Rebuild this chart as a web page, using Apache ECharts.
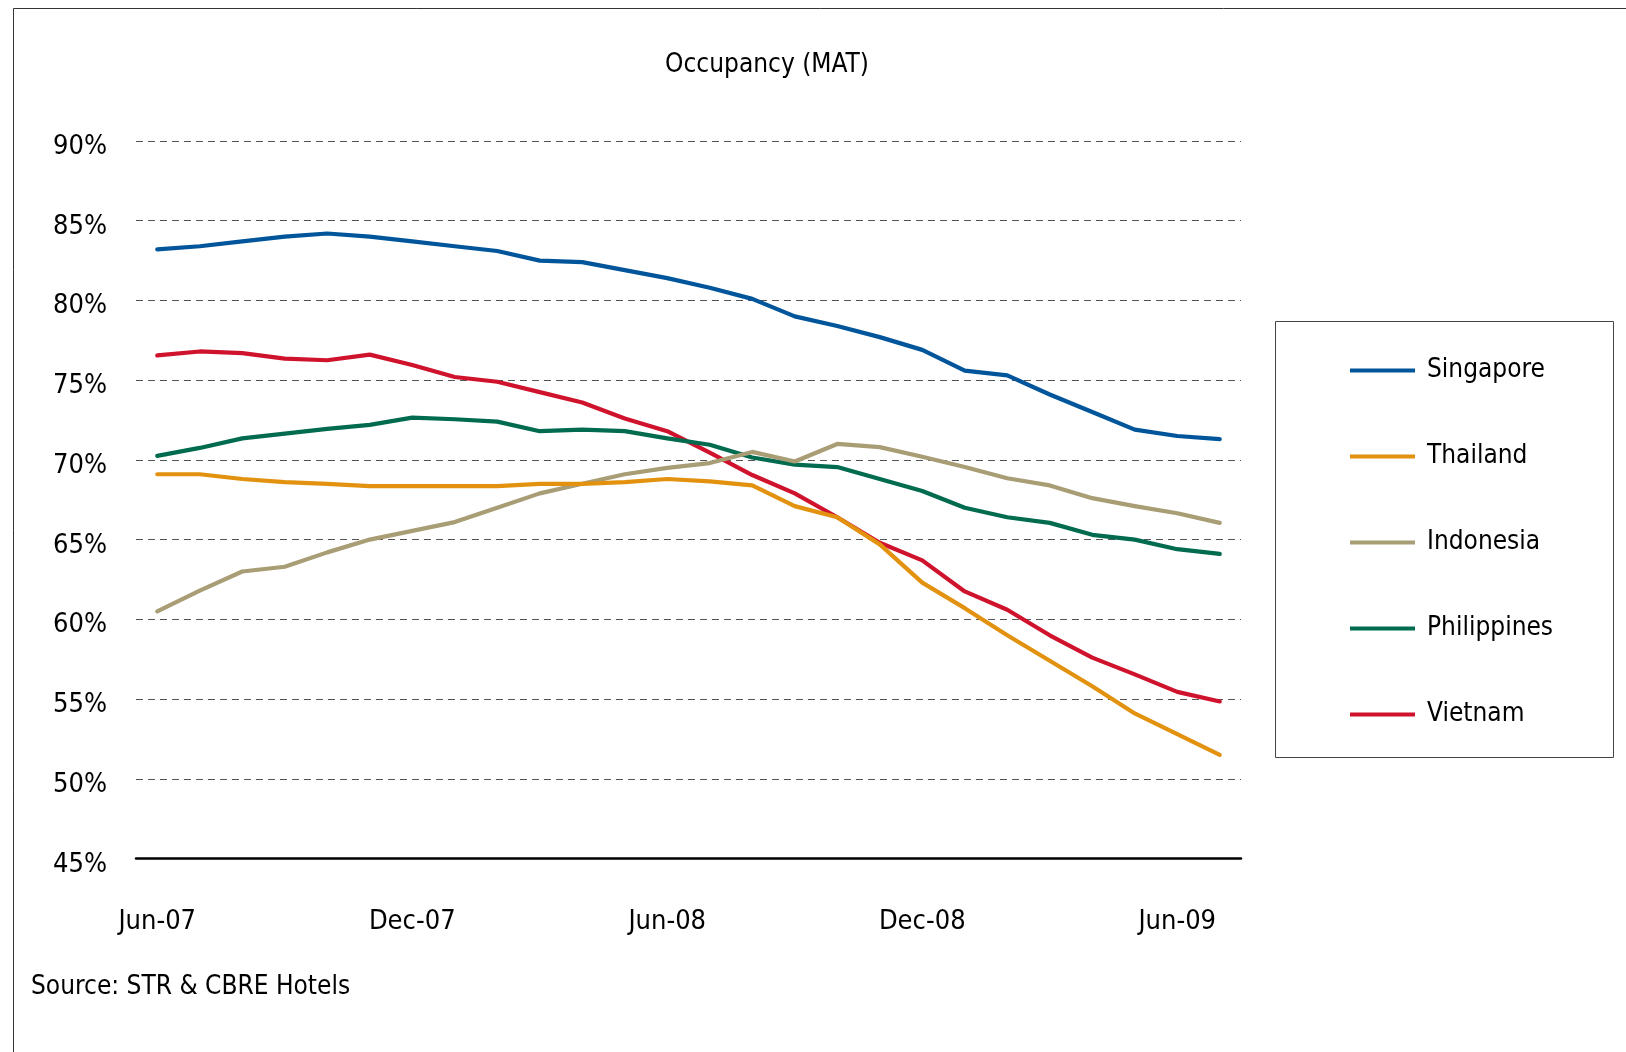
<!DOCTYPE html>
<html>
<head>
<meta charset="utf-8">
<script src="https://cdn.jsdelivr.net/npm/echarts@6/dist/echarts.min.js"></script>
<style>
html,body{margin:0;padding:0;background:#fff;}
#chart{width:1626px;height:1052px;}
</style>
</head>
<body>
<div id="chart"></div>
<script>
const months = ["Jun-07","Jul-07","Aug-07","Sep-07","Oct-07","Nov-07","Dec-07","Jan-08","Feb-08","Mar-08","Apr-08","May-08","Jun-08","Jul-08","Aug-08","Sep-08","Oct-08","Nov-08","Dec-08","Jan-09","Feb-09","Mar-09","Apr-09","May-09","Jun-09","Jul-09"];
const singapore = [83.2,83.4,83.7,84.0,84.2,84.0,83.7,83.4,83.1,82.5,82.4,81.9,81.4,80.8,80.1,79.0,78.4,77.7,76.9,75.6,75.3,74.1,73.0,71.9,71.5,71.3];
const thailand = [69.1,69.1,68.8,68.6,68.5,68.35,68.35,68.35,68.35,68.5,68.5,68.6,68.8,68.65,68.4,67.1,66.4,64.7,62.3,60.7,59.0,57.4,55.8,54.1,52.8,51.5];
const indonesia = [60.5,61.8,63.0,63.3,64.2,65.0,65.55,66.1,67.0,67.9,68.5,69.1,69.5,69.8,70.5,69.9,71.0,70.8,70.2,69.55,68.85,68.4,67.6,67.1,66.65,66.05];
const philippines = [70.25,70.75,71.35,71.65,71.95,72.2,72.65,72.55,72.4,71.8,71.9,71.8,71.35,70.95,70.15,69.7,69.55,68.8,68.05,67.0,66.4,66.05,65.3,65.0,64.4,64.1];
const vietnam = [76.55,76.8,76.7,76.35,76.25,76.6,75.95,75.2,74.9,74.25,73.6,72.6,71.8,70.45,69.05,67.9,66.4,64.8,63.7,61.75,60.6,59.0,57.6,56.55,55.45,54.85];
const seriesNames = ["Singapore","Thailand","Indonesia","Philippines","Vietnam"];
const seriesData = [singapore, thailand, indonesia, philippines, vietnam];
const colors = ["#00559B","#E2920F","#A89D74","#006B4E","#D0132D"];
const yTicks = {min:45, max:90, step:5};

const FONT = "'Liberation Sans Narrow','Arial Narrow','DejaVu Sans Condensed',sans-serif";
const chart = echarts.init(document.getElementById('chart'), null, {renderer:'canvas'});
chart.setOption({
  animation:false,
  backgroundColor:'#ffffff',
  color: colors,
  title:[
    {text:'Occupancy (MAT)', left:762, top:47, textAlign:'center',
     textStyle:{fontFamily:FONT, fontSize:26, fontWeight:'normal', color:'#000'}},
    {text:'Source: STR & CBRE Hotels', left:26, top:969,
     textStyle:{fontFamily:FONT, fontSize:26, fontWeight:'normal', color:'#000'}}
  ],
  graphic:[
    {type:'rect', left:11, top:6, shape:{width:1700, height:1100}, silent:true, z:-1,
     style:{fill:'none', stroke:'#333', lineWidth:1}},
    {type:'rect', left:1273, top:319, shape:{width:338, height:436}, silent:true,
     style:{fill:'none', stroke:'#444', lineWidth:1}}
  ],
  legend:{
    orient:'vertical', left:1350, top:355, padding:0,
    icon:'rect', itemWidth:65, itemHeight:4, itemGap:55,
    textStyle:{fontFamily:FONT, fontSize:26, color:'#000', lineHeight:31, padding:[0,0,0,7]},
    data: seriesNames
  },
  grid:{left:136, right:385, top:141, bottom:193.5, containLabel:false},
  xAxis:{
    type:'category', data:months, boundaryGap:true,
    axisLine:{show:true, lineStyle:{color:'#000', width:2.5}},
    axisTick:{show:false},
    axisLabel:{interval:5, margin:50, fontFamily:FONT, fontSize:27, color:'#000'}
  },
  yAxis:{
    type:'value', min:yTicks.min, max:yTicks.max, interval:yTicks.step,
    axisLine:{show:false}, axisTick:{show:false},
    axisLabel:{formatter:'{value}%', margin:29, fontFamily:FONT, fontSize:27, color:'#000',
      verticalAlign:'top', lineHeight:12},
    splitLine:{show:true, lineStyle:{color:'#555', width:1, type:[7,5]}}
  },
  series: seriesNames.map((n,i)=>({
    name:n, type:'line', data:seriesData[i], symbol:'none', smooth:false,
    lineStyle:{width:4.2, color:colors[i], cap:'round', join:'round'},
    itemStyle:{color:colors[i]}, z: 10 - i
  }))
});
</script>
</body>
</html>
